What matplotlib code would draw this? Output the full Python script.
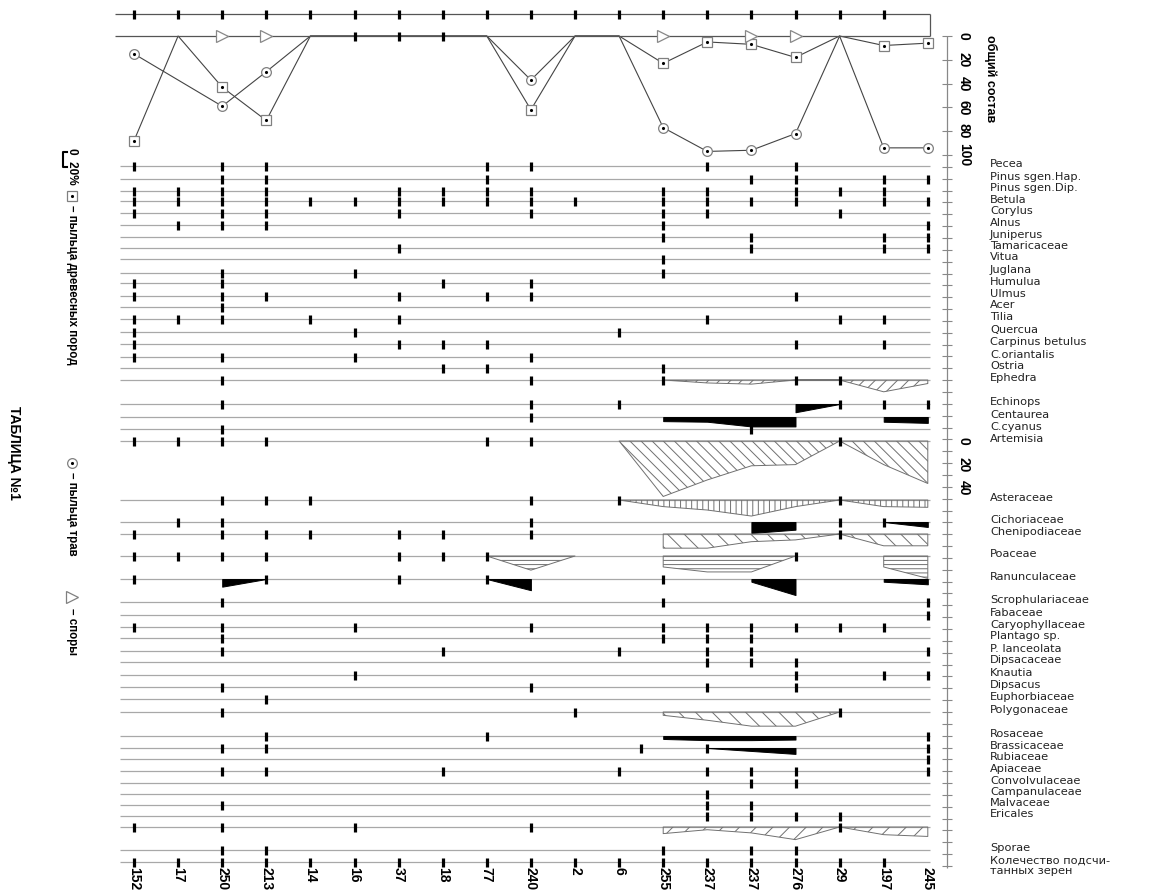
import numpy as np
import matplotlib
matplotlib.use('Agg')
import matplotlib.pyplot as plt

nan = np.nan

# samples along the section
samples = ['152', '17', '250', '213', '14', '16', '37', '18', '77', '240',
           '2', '6', '255', '237', '237', '276', '29', '197', '245']

# общий состав, %
trees = [88, 0, 43, 71, 0, nan, nan, nan, 0, 62, 0, 0, 23, 5, 7, 18, 0, 8, 6]
herbs = [15, nan, 59, 30, 0, nan, nan, nan, 0, 37, 0, 0, 77, 97, 96, 82, 0, 94, 94]
spores = [2, 3, 12, 14, 15]
top_ticks = list(range(18))
zero_ticks = [5, 6, 7]

taxa = ['Pecea', 'Pinus sgen.Hap.', 'Pinus sgen.Dip.', 'Betula', 'Corylus', 'Alnus',
        'Juniperus', 'Tamaricaceae', 'Vitua', 'Juglana', 'Humulua', 'Ulmus', 'Acer',
        'Tilia', 'Quercua', 'Carpinus betulus', 'C.oriantalis', 'Ostria', 'Ephedra',
        'Echinops', 'Centaurea', 'C.cyanus', 'Artemisia', 'Asteraceae', 'Cichoriaceae',
        'Chenipodiaceae', 'Poaceae', 'Ranunculaceae', 'Scrophulariaceae', 'Fabaceae',
        'Caryophyllaceae', 'Plantago sp.', 'P. lanceolata', 'Dipsacaceae', 'Knautia',
        'Dipsacus', 'Euphorbiaceae', 'Polygonaceae', 'Rosaceae', 'Brassicaceae',
        'Rubiaceae', 'Apiaceae', 'Convolvulaceae', 'Campanulaceae', 'Malvaceae',
        'Ericales', '', 'Sporae', 'Колечество подсчи-\nтанных зерен']

# samples where a taxon was found (single grains)
found = [
    [0, 2, 3, 8, 9, 13, 15],
    [2, 3, 8, 14, 15, 17, 18],
    [0, 1, 2, 3, 6, 7, 8, 9, 12, 13, 15, 16, 17],
    [0, 1, 2, 3, 4, 5, 6, 7, 8, 9, 10, 12, 13, 14, 15, 17, 18],
    [0, 2, 3, 6, 9, 12, 13, 16],
    [1, 2, 3, 12, 18],
    [12, 14, 17, 18],
    [6, 14, 17, 18],
    [12],
    [2, 5, 12],
    [0, 2, 7, 9],
    [0, 2, 3, 6, 8, 9, 15],
    [2],
    [0, 1, 2, 4, 6, 13, 16, 17],
    [0, 5, 11],
    [0, 6, 7, 8, 15, 17],
    [0, 2, 5, 9],
    [7, 8, 12],
    [2, 9, 12, 15, 16],
    [2, 9, 11, 16, 17, 18],
    [9],
    [2, 14],
    [0, 1, 2, 3, 8, 9, 16],
    [2, 3, 4, 9, 11, 16],
    [1, 2, 9, 16, 17],
    [0, 2, 3, 4, 6, 7, 9, 16],
    [0, 1, 2, 3, 6, 7, 8, 15],
    [0, 3, 6, 8, 12],
    [2, 12, 18],
    [18],
    [0, 2, 5, 9, 12, 13, 14, 15, 16, 17],
    [2, 12, 13, 14],
    [2, 7, 11, 13, 14, 18],
    [13, 14, 15],
    [5, 15, 17, 18],
    [2, 9, 13, 15],
    [3],
    [2, 10, 16],
    [3, 8, 18],
    [2, 3, 11.5, 13, 18],
    [18],
    [2, 3, 7, 11, 13, 14, 15, 18],
    [14, 15],
    [13],
    [2, 13, 14],
    [13, 14, 15, 16],
    [0, 2, 5, 9, 16],
    [2, 3, 12, 14, 15],
    list(range(18)),
]

# curves, %
ephedra = [nan] * 12 + [0, 2.5, 3.5, 0, 0, 10, 3]
echinops = [nan] * 15 + [7, 0, nan, nan]
centaurea = [nan] * 12 + [3.5, 4, 8, 8, nan, 4, 5]
artemisia = [nan] * 11 + [0, 47, 33, 21, 20, 0, 20, 36]
asteraceae = [nan] * 11 + [0, 5.6, 8.5, 13.6, 5.6, 0, 5.6, 6.2]
cichoriaceae = [nan] * 14 + [9.3, 6.5, nan, 0, 4.2]
chenopod = [nan] * 12 + [12, 12, 6.5, 5, 0, 10, 10]
poaceae = [nan] * 8 + [0, 12, 0, nan, 9.3, 13.5, 13.5, 0, nan, 9.3, 19]
ranunc = [nan, nan, 6.5, 0, nan, nan, nan, nan, 0, 9.5, nan, nan, nan, nan, 2.3, 13.6, nan, 2.3, 4.5]
polygon = [nan] * 12 + [2.8, 7, 12, 12, 0, nan, nan]
rosaceae = [nan] * 12 + [2.5, 3.5, 3.5, 3, nan, nan, nan]
brassic = [nan] * 13 + [0, 2.5, 5, nan, nan, nan]
sporae = [nan] * 12 + [5.6, 2.3, 5, 10.7, 0, 6.5, 8]

# layout (pixels)
row_y = [166, 179, 191, 201, 213, 225, 237, 248, 259, 273, 283, 296, 307, 319, 332,
         344, 357, 368, 380, 404, 417, 429, 441, 500, 522, 534, 556, 579, 602, 615,
         627, 638, 651, 662, 675, 687, 699, 712, 736, 748, 759, 771, 783, 794, 805,
         816, 827, 850, 862]
# small nudges of the names so that neighbours do not collide
label_dy = {2: -1, 3: 1, 9: -1, 10: 1}
X0, DX = 134, 44.1
K = 1.18            # px per % in curves
TOP0, TK = 36, 1.19  # общий состав panel
L, R = 120, 930
AX_X = 947

def sx(i):
    return X0 + DX * np.asarray(i, dtype=float)

narrow = ['Liberation Sans Narrow', 'Liberation Sans', 'DejaVu Sans']
line_c = '#a8a8a8'
hatch_c = '#707070'
plt.rcParams['hatch.linewidth'] = 0.7

fig = plt.figure(figsize=(11.54, 8.92), dpi=100)
ax = fig.add_axes([0, 0, 1, 1])
ax.set_xlim(0, 1154)
ax.set_ylim(892, 0)
ax.axis('off')

# --- top panel: общий состав
ax.hlines(14, L - 5, R, color='#555555', lw=0.9)
ax.vlines(R, 14, TOP0, color='#555555', lw=0.9)
ax.vlines(sx(top_ticks), 14 - 4.5, 14 + 4.5, color='black', lw=2.3)

for vals, mk in [(trees, 's'), (herbs, 'o')]:
    v = np.array(vals, dtype=float)
    ok = ~np.isnan(v)
    xs = sx(np.arange(len(v))[ok])
    ys = TOP0 + v[ok] * TK
    ax.plot(xs, ys, color='#444444', lw=0.8, zorder=3)
    pos = v[ok] > 0
    ax.plot(xs[pos], ys[pos], mk, ms=7, mfc='white', mec='#808080', mew=0.9, zorder=4)
    ax.plot(xs[pos], ys[pos], '.', ms=2.5, color='black', zorder=5)

ax.hlines(TOP0, L - 5, R, color='#555555', lw=0.9, zorder=3)
ax.plot(sx(spores), [TOP0] * len(spores), '>', ms=8, mfc='white', mec='#888888',
        mew=0.9, zorder=4)
ax.vlines(sx(zero_ticks), TOP0 - 4.5, TOP0 + 4.5, color='black', lw=2.3, zorder=4)

# --- taxa rows
ax.hlines(row_y, L, R, color=line_c, lw=0.9, zorder=1)
for y, idx in zip(row_y, found):
    ax.vlines(sx(idx), y - 4.5, y + 4.5, color='black', lw=2.3, zorder=5)

curves = [
    (18, ephedra, 'none', '///'),
    (19, echinops, 'black', None),
    (20, centaurea, 'black', None),
    (22, artemisia, 'none', '\\\\\\'),
    (23, asteraceae, 'none', '|||'),
    (24, cichoriaceae, 'black', None),
    (25, chenopod, 'none', '\\\\'),
    (26, poaceae, 'none', '----'),
    (27, ranunc, 'black', None),
    (37, polygon, 'none', '\\\\'),
    (38, rosaceae, 'black', None),
    (39, brassic, 'black', None),
    (46, sporae, 'none', '//'),
]
for r, vals, fc, hatch in curves:
    v = np.array(vals, dtype=float)
    ok = ~np.isnan(v)
    idx = np.arange(len(v))
    start = None
    for i in range(len(v) + 1):
        if i < len(v) and ok[i]:
            if start is None:
                start = i
        elif start is not None:
            seg = idx[start:i]
            if len(seg) > 1:
                y0 = row_y[r]
                ec = 'black' if fc == 'black' else hatch_c
                ax.fill_between(sx(seg), y0, y0 + v[seg] * K, facecolor=fc,
                                edgecolor=ec, hatch=hatch, lw=0.7, zorder=4)
            start = None

# --- right axis
scale_y = TOP0 + np.arange(0, 101, 20) * TK
reg = 155 + np.arange(1, 61) * 11.85
ax.vlines(AX_X, TOP0, 868, color='#888888', lw=0.9)
ax.hlines(np.concatenate([scale_y, reg]), AX_X - 5, AX_X + 5, color='#888888', lw=0.8)
for val, y in zip(range(0, 101, 20), scale_y):
    ax.text(964, y, str(val), rotation=-90, ha='center', va='center',
            fontsize=10, fontweight='bold', family=narrow)
for val in (0, 20, 40):
    ax.text(964, row_y[22] + val * K, str(val), rotation=-90, ha='center', va='center',
            fontsize=10, fontweight='bold', family=narrow)
ax.text(991, 35, 'общий состав', rotation=-90, ha='center', va='top',
        fontsize=9, fontweight='bold', family=narrow)

for r, (name, y) in enumerate(zip(taxa, row_y)):
    if name:
        yy = y + 4 if '\n' in name else y - 2 + label_dy.get(r, 0)
        ax.text(990, yy, name, ha='left', va='center', fontsize=8.2,
                family='DejaVu Sans', color='#222222', linespacing=1.05)

for name, x in zip(samples, sx(np.arange(len(samples)))):
    ax.text(x, 867, name, rotation=-90, ha='center', va='top', fontsize=10,
            fontweight='bold', family=narrow)

# --- legend on the left
ax.text(72, 148, '0  20%', rotation=-90, ha='center', va='top', fontsize=8.5,
        fontweight='bold', family=narrow)
ax.plot([67, 63, 63, 67], [152, 152, 167, 167], color='black', lw=1.5)
ax.plot(72, 196, 's', ms=7, mfc='white', mec='#808080', mew=0.9)
ax.plot(72, 196, '.', ms=2.5, color='black')
ax.text(72, 205, '– пыльца древесных пород', rotation=-90, ha='center', va='top',
        fontsize=8.3, fontweight='bold', family=narrow)
ax.plot(72, 463, 'o', ms=7, mfc='white', mec='#808080', mew=0.9)
ax.plot(72, 463, '.', ms=2.5, color='black')
ax.text(72, 472, '– пыльца трав', rotation=-90, ha='center', va='top',
        fontsize=8.3, fontweight='bold', family=narrow)
ax.plot(72, 597, '>', ms=8, mfc='white', mec='#808080', mew=0.9)
ax.text(72, 608, '– споры', rotation=-90, ha='center', va='top',
        fontsize=8.3, fontweight='bold', family=narrow)
ax.text(14, 453, 'ТАБЛИЦА №1', rotation=-90, ha='center', va='center',
        fontsize=10, fontweight='bold', family=narrow)

fig.savefig('out.png', dpi=100)
